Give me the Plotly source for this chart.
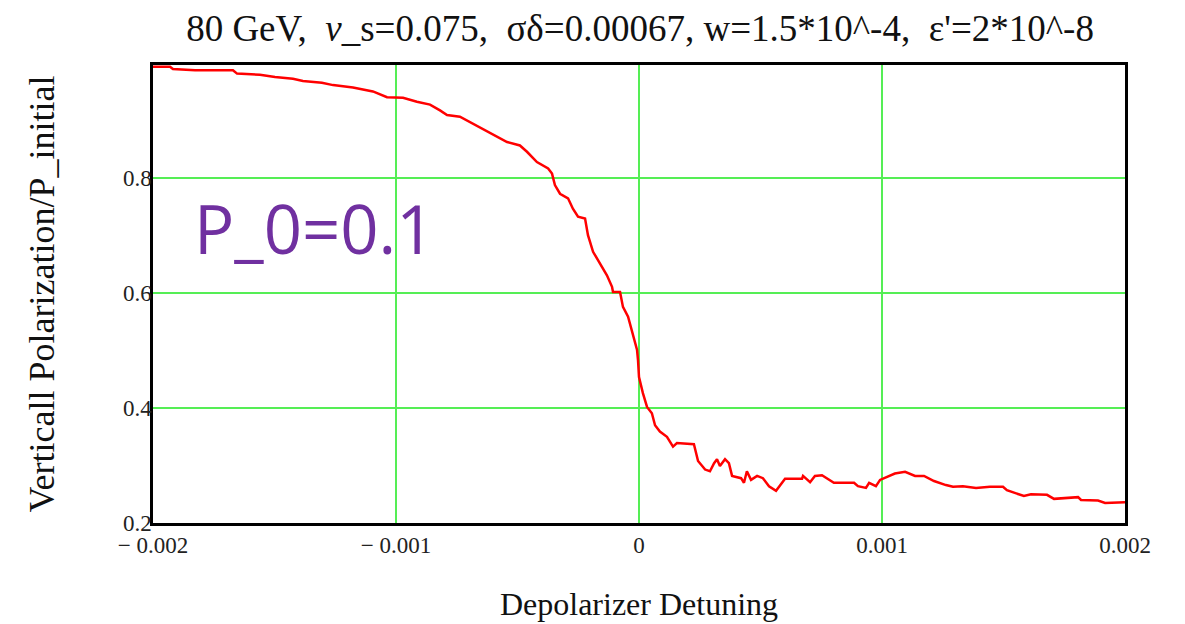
import plotly.graph_objects as go

# Depolarizer detuning (x) and normalized vertical polarization (y)
detuning = [
    -0.002000, -0.001930, -0.001918, -0.001827, -0.001671, -0.001654, -0.001560, -0.001498,
    -0.001424, -0.001383, -0.001305, -0.001259, -0.001177, -0.001095, -0.001037, -0.000971,
    -0.000914, -0.000860, -0.000819, -0.000790, -0.000737, -0.000683, -0.000613, -0.000543,
    -0.000490, -0.000461, -0.000420, -0.000374, -0.000358, -0.000346, -0.000325, -0.000292,
    -0.000272, -0.000251, -0.000222, -0.000210, -0.000189, -0.000160, -0.000132, -0.000111,
    -0.000107, -0.000078, -0.000066, -0.000045, -0.000025, -0.000008, -0.000004, 0.000000,
    0.000016, 0.000033, 0.000053, 0.000066, 0.000086, 0.000115, 0.000140, 0.000156,
    0.000226, 0.000243, 0.000272, 0.000292, 0.000309, 0.000321, 0.000333, 0.000354,
    0.000370, 0.000383, 0.000420, 0.000432, 0.000444, 0.000461, 0.000486, 0.000510,
    0.000535, 0.000564, 0.000601, 0.000671, 0.000675, 0.000704, 0.000724, 0.000753,
    0.000802, 0.000885, 0.000901, 0.000934, 0.000947, 0.000975, 0.000992, 0.001053,
    0.001095, 0.001136, 0.001173, 0.001214, 0.001263, 0.001292, 0.001333, 0.001387,
    0.001444, 0.001498, 0.001514, 0.001584, 0.001613, 0.001679, 0.001708, 0.001807,
    0.001819, 0.001889, 0.001918, 0.002000,
]
polarization = [
    0.994, 0.994, 0.990, 0.988, 0.988, 0.982, 0.980, 0.976,
    0.973, 0.969, 0.966, 0.962, 0.958, 0.951, 0.941, 0.940,
    0.933, 0.928, 0.918, 0.910, 0.907, 0.895, 0.878, 0.863,
    0.857, 0.846, 0.828, 0.817, 0.808, 0.788, 0.773, 0.765,
    0.747, 0.733, 0.730, 0.701, 0.672, 0.652, 0.631, 0.611,
    0.602, 0.602, 0.576, 0.559, 0.530, 0.501, 0.483, 0.454,
    0.426, 0.402, 0.391, 0.370, 0.359, 0.350, 0.333, 0.339,
    0.337, 0.308, 0.293, 0.290, 0.304, 0.311, 0.299, 0.311,
    0.304, 0.282, 0.278, 0.270, 0.290, 0.275, 0.282, 0.278,
    0.264, 0.256, 0.277, 0.277, 0.282, 0.271, 0.282, 0.283,
    0.270, 0.270, 0.264, 0.261, 0.270, 0.264, 0.275, 0.286,
    0.289, 0.282, 0.282, 0.273, 0.266, 0.263, 0.264, 0.261,
    0.263, 0.263, 0.257, 0.247, 0.250, 0.249, 0.242, 0.245,
    0.240, 0.239, 0.235, 0.236,
]

x_tickvals = [-0.002, -0.001, 0.0, 0.001, 0.002]
x_ticktext = ["\u2212 0.002", "\u2212 0.001", "0", "0.001", "0.002"]
y_tickvals = [0.2, 0.4, 0.6, 0.8]
y_ticktext = ["0.2", "0.4", "0.6", "0.8"]

title_text = ("80 GeV,\u00a0 <i>\u03bd</i>_s=0.075,\u00a0 \u03c3\u03b4=0.00067, "
              "w=1.5*10^-4,\u00a0 \u03b5'=2*10^-8")

serif = "Liberation Serif, Times New Roman, serif"
grid_color = "#55EE55"

fig = go.Figure()
fig.add_trace(go.Scatter(
    x=detuning, y=polarization, mode="lines",
    line=dict(color="#FF0000", width=2.5),
    showlegend=False, hoverinfo="skip",
))

fig.update_layout(
    width=1177, height=616,
    margin=dict(l=145, r=60, t=57, b=101),
    paper_bgcolor="white", plot_bgcolor="white",
    title=dict(text=title_text, x=0.537, xanchor="center", y=0.968, yanchor="middle",
               font=dict(family=serif, size=37, color="#111111")),
    xaxis=dict(
        range=[-0.002, 0.002], tickvals=x_tickvals, ticktext=x_ticktext,
        showgrid=True, gridcolor=grid_color, gridwidth=1.5, zeroline=False,
        showline=True, linecolor="black", linewidth=2.5, mirror=True, automargin=False,
        ticks="", tickfont=dict(family=serif, size=23, color="#222222"),
        title=dict(text="Depolarizer Detuning", font=dict(family=serif, size=32, color="#111111"),
                   standoff=36),
    ),
    yaxis=dict(
        range=[0.2, 0.997], tickvals=y_tickvals, ticktext=y_ticktext,
        showgrid=True, gridcolor=grid_color, gridwidth=1.5, zeroline=False,
        showline=True, linecolor="black", linewidth=2.5, mirror=True, automargin=False,
        ticks="", ticklabelstandoff=-6,
        tickfont=dict(family=serif, size=23, color="#222222"),
        title=dict(text="Verticall Polarization/P_initial\u00a0\u00a0",
                   font=dict(family=serif, size=36, color="#111111"), standoff=58),
    ),
    annotations=[dict(
        text="P_0=0.1", x=-0.00184, y=0.713, xref="x", yref="y",
        xanchor="left", yanchor="middle", showarrow=False,
        font=dict(family="Open Sans, sans-serif", size=67, color="#7030A0"),
    )],
)

fig.write_html("out.html")
